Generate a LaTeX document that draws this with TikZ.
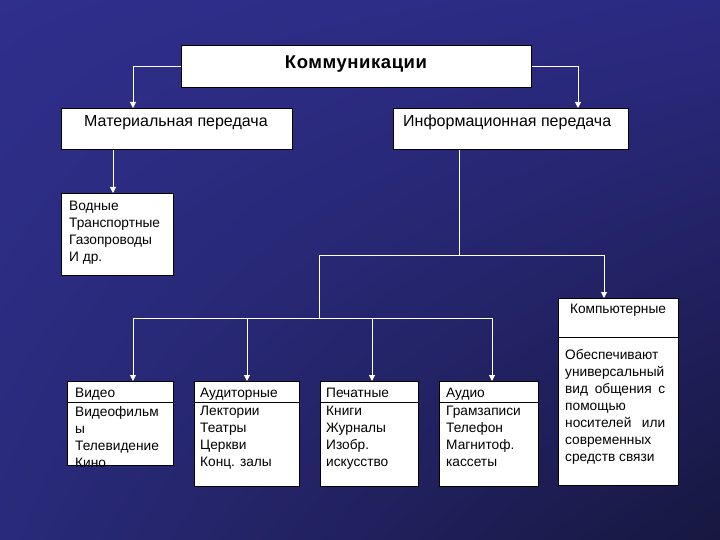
\documentclass[tikz,border=0pt]{standalone}
\usepackage{fontspec}
\setmainfont{Liberation Sans}
\usetikzlibrary{arrows.meta,calc,shadings}
\definecolor{bgUL}{HTML}{2F2F8C}
\definecolor{bgUR}{HTML}{2B2A82}
\definecolor{bgLL}{HTML}{292A7A}
\definecolor{bgLR}{HTML}{171740}
\tikzset{
  box/.style={draw=black, line width=1pt, fill=white, rectangle, inner sep=0pt, anchor=north west},
  txt/.style={inner sep=0pt, anchor=north west, align=left, font=\fontsize{13.7}{17}\selectfont, text=black},
  bigtxt/.style={inner sep=0pt, anchor=base west, font=\fontsize{16}{18}\selectfont, text=black},
  wline/.style={draw=white, line width=1pt},
  conn/.style={wline, -{Triangle[width=6pt,length=6pt]}},
  divider/.style={draw=black, line width=1pt}
}
\begin{document}
\begin{tikzpicture}[x=1pt,y=-1pt]
\useasboundingbox (0,0) rectangle (720,540);
\shade[upper left=bgUL, upper right=bgUR, lower left=bgLL, lower right=bgLR] (0,0) rectangle (720,540);

% top level
\node[box, minimum width=350pt, minimum height=42pt] (komm) at (181,45) {};
\node[inner sep=0pt, anchor=base, font=\fontsize{18.5}{20}\bfseries\selectfont, text=black] (kommt) at (356,68.5) {\addfontfeature{LetterSpace=3}Коммуникации};

\node[box, minimum width=231pt, minimum height=41pt] (mat) at (61,108) {};
\node[bigtxt] (matt) at (84,127) {Материальная передача};

\node[box, minimum width=235pt, minimum height=41pt] (info) at (393,108) {};
\node[bigtxt] (infot) at (403,127) {Информационная передача};

\node[box, minimum width=112pt, minimum height=82pt] (vod) at (61,193) {};
\node[txt] (vodt) at (69,201) {Водные\\Транспортные\\Газопроводы\\И др.};

% computers
\node[box, minimum width=120pt, minimum height=187pt] (comp) at (558,298) {};
\draw[divider] (558,337) -- (678,337);
\node[inner sep=0pt, anchor=north, font=\fontsize{13.7}{17}\selectfont] (compt) at (618,303.5) {Компьютерные};
\node[txt] (compd) at (565,349) {%
\hbox to 100pt{Обеспечивают\hfill}\\
\hbox to 100pt{универсальный}\\
\hbox to 100pt{вид\hfill общения\hfill с}\\
\hbox to 100pt{помощью\hfill}\\
\hbox to 100pt{носителей\hfill или}\\
\hbox to 100pt{современных\hfill}\\
\hbox to 100pt{средств связи\hfill}};

% bottom boxes
\node[box, minimum width=106pt, minimum height=84pt] (video) at (67,381) {};
\draw[divider] (67,402) -- (173,402);
\node[txt] (videot) at (75,388) {Видео};
\node[txt] (videod) at (75,406) {Видеофильм\\ы\\Телевидение\\Кино};

\node[box, minimum width=105pt, minimum height=105pt] (aud) at (194,381) {};
\draw[divider] (194,402) -- (299,402);
\node[txt] (audt) at (200,388) {Аудиторные};
\node[txt] (audd) at (200,406) {Лектории\\Театры\\Церкви\\Конц. залы};

\node[box, minimum width=98pt, minimum height=105pt] (pech) at (320,381) {};
\draw[divider] (320,402) -- (418,402);
\node[txt] (pecht) at (326,388) {Печатные};
\node[txt] (pechd) at (326,406) {Книги\\Журналы\\Изобр.\\искусство};

\node[box, minimum width=99pt, minimum height=105pt] (audio) at (439,381) {};
\draw[divider] (439,402) -- (538,402);
\node[txt] (audiot) at (446,388) {Аудио};
\node[txt] (audiod) at (446,406) {Грамзаписи\\Телефон\\Магнитоф.\\кассеты};

% connector junctions
\coordinate (j1) at (459,255);
\coordinate (j2) at (319,255);
\coordinate (j3) at (604,255);
\coordinate (j4) at (319,318);
\coordinate (j5) at (133,318);
\coordinate (j6) at (492,318);

% connectors
\draw[conn] (komm.west) -| ([xshift=72pt]mat.north west);
\draw[conn] (komm.east) -| ([xshift=185pt]info.north west);
\draw[conn] ([xshift=52pt]mat.south west) -- ([xshift=52pt]vod.north west);
\draw[wline] ([xshift=66pt]info.south west) -- (j1);
\draw[wline] (j2) -- (j3);
\draw[conn] (j3) -- ([xshift=46pt]comp.north west);
\draw[wline] (j2) -- (j4);
\draw[wline] (j5) -- (j6);
\draw[conn] (j5) -- ([xshift=66pt]video.north west);
\draw[conn] ([xshift=53pt]aud.north west |- j5) -- ([xshift=53pt]aud.north west);
\draw[conn] ([xshift=52pt]pech.north west |- j5) -- ([xshift=52pt]pech.north west);
\draw[conn] (j6) -- ([xshift=53pt]audio.north west);
\end{tikzpicture}
\end{document}
